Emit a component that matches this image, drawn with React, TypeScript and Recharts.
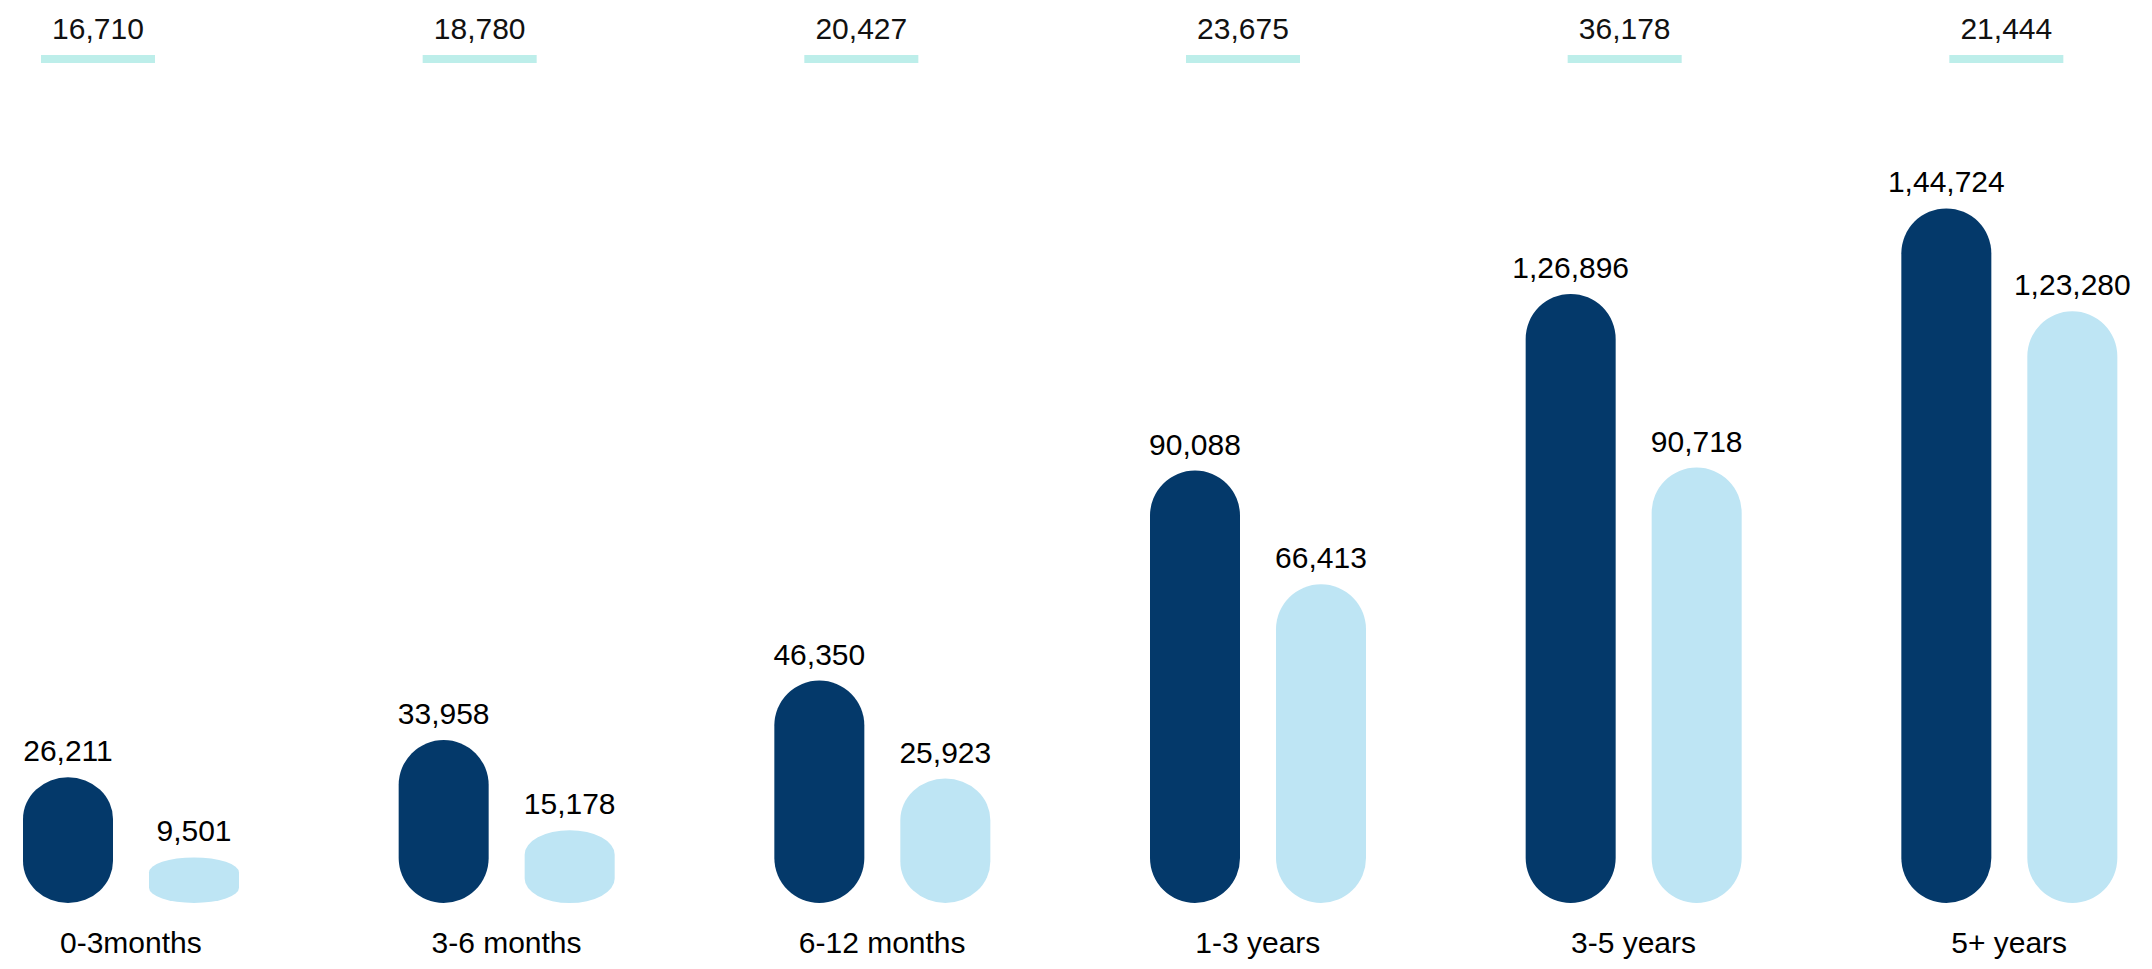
import React from 'react';
import { BarChart, Bar, XAxis, YAxis, LabelList } from 'recharts';

const categories = ['0-3months', '3-6 months', '6-12 months', '1-3 years', '3-5 years', '5+ years'];
const seriesA = [26211, 33958, 46350, 90088, 126896, 144724];
const seriesB = [9501, 15178, 25923, 66413, 90718, 123280];
const topValues = [16710, 18780, 20427, 23675, 36178, 21444];

const data = categories.map((c, i) => ({ name: c, a: seriesA[i], b: seriesB[i], t: topValues[i] }));

const FONT = '"Liberation Sans", Arial, sans-serif';
const DARK = '#04396A';
const LIGHT = '#BEE5F4';
const TEAL = '#BDEEEA';

const fmt = (v: any) => {
  const s = String(Math.round(Number(v)));
  if (s.length <= 3) return s;
  const last3 = s.slice(-3);
  let rest = s.slice(0, -3);
  const parts: string[] = [];
  while (rest.length > 2) {
    parts.unshift(rest.slice(-2));
    rest = rest.slice(0, -2);
  }
  if (rest) parts.unshift(rest);
  return parts.join(',') + ',' + last3;
};

const Pill = (props: any) => {
  const { x, y, width, height, fill } = props;
  if (!height || height <= 0) return null;
  const rx = width / 2;
  const ry = Math.min(rx, height / 3);
  const d = `M${x},${y + ry} A${rx},${ry} 0 0 1 ${x + width},${y + ry} L${x + width},${y + height - ry} A${rx},${ry} 0 0 1 ${x},${y + height - ry} Z`;
  return <path d={d} fill={fill} />;
};

const HEADER_LINE_Y = 55;
const HEADER_TEXT_Y = 38.5;

const Header = (props: any) => {
  const { x, width, payload } = props;
  return (
    <g>
      <rect x={x} y={HEADER_LINE_Y} width={width} height={8} fill={TEAL} />
      <text x={x + width / 2} y={HEADER_TEXT_Y} textAnchor="middle" fontSize={30} fontFamily={FONT} fill="#111">
        {fmt(payload.t)}
      </text>
    </g>
  );
};

export default function App() {
  return (
    <div style={{ position: 'absolute', left: 0, top: 0, width: 2152, height: 969, overflow: 'hidden', background: '#fff' }}>
      <div style={{ position: 'absolute', left: -57, top: 0 }}>
        <BarChart width={2254} height={969} data={data} margin={{ top: 135, right: 0, left: 0, bottom: 0 }} barGap={36}>
          <XAxis
            dataKey="name"
            xAxisId="m"
            height={66}
            axisLine={false}
            tickLine={false}
            tickSize={0}
            tickMargin={29}
            interval={0}
            tick={{ fontSize: 30, fill: '#000', fontFamily: FONT }}
          />
          <XAxis dataKey="name" xAxisId="t" hide padding={{ left: -36, right: 0 }} />
          <YAxis yAxisId="m" hide domain={[0, 160000]} />
          <YAxis yAxisId="t" hide domain={[0, 100000]} />
          <Bar xAxisId="m" yAxisId="m" dataKey="a" fill={DARK} barSize={90} shape={<Pill />} isAnimationActive={false}>
            <LabelList dataKey="a" position="top" offset={16} formatter={fmt} fill="#000" fontSize={30} fontFamily={FONT} />
          </Bar>
          <Bar xAxisId="m" yAxisId="m" dataKey="b" fill={LIGHT} barSize={90} shape={<Pill />} isAnimationActive={false}>
            <LabelList dataKey="b" position="top" offset={16} formatter={fmt} fill="#000" fontSize={30} fontFamily={FONT} />
          </Bar>
          <Bar xAxisId="t" yAxisId="t" dataKey="t" fill={TEAL} barSize={114} shape={<Header />} isAnimationActive={false} />
        </BarChart>
      </div>
    </div>
  );
}
